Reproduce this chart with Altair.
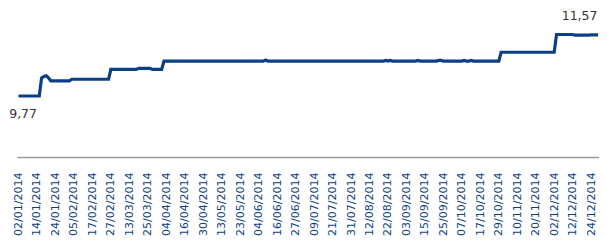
import altair as alt
import pandas as pd

# --- data ---
# CDI daily series (business days of 2014), written as flat runs: level and number of days
seg_values = [9.77, 10.30, 10.34, 10.36, 10.30, 10.21, 10.26, 10.55, 10.58, 10.55,
              10.79, 10.82, 10.79, 10.81, 10.79, 10.81, 10.79, 10.81, 10.79, 10.81,
              10.79, 10.81, 10.79, 10.81, 10.79, 11.05, 11.57, 11.55, 11.56]
seg_days = [10, 1, 1, 1, 1, 9, 17, 12, 6, 5,
            44, 1, 51, 1, 1, 1, 11, 1, 8, 2,
            9, 1, 2, 1, 12, 24, 8, 7, 4]

# x-axis tick labels (every 8th business day)
tick_labels = ["02/01/2014", "14/01/2014", "24/01/2014", "05/02/2014", "17/02/2014",
               "27/02/2014", "13/03/2014", "25/03/2014", "04/04/2014", "16/04/2014",
               "30/04/2014", "13/05/2014", "23/05/2014", "04/06/2014", "16/06/2014",
               "27/06/2014", "09/07/2014", "21/07/2014", "31/07/2014", "12/08/2014",
               "22/08/2014", "03/09/2014", "15/09/2014", "25/09/2014", "07/10/2014",
               "17/10/2014", "29/10/2014", "10/11/2014", "20/11/2014", "02/12/2014",
               "12/12/2014", "24/12/2014"]
tick_step = 8

# value labels (first and highest values)
label_day = [2, 243]
label_value = [9.77, 11.57]
label_text = ["9,77", "11,57"]

# --- build tables ---
vals = []
for v, n in zip(seg_values, seg_days):
    vals.extend([v] * n)
df = pd.DataFrame({"day": list(range(len(vals))), "cdi": vals})
lab = pd.DataFrame({"day": label_day, "cdi": label_value, "txt": label_text})

BLUE = "#0b3f86"
tick_vals = [i * tick_step for i in range(len(tick_labels))]
arr = "[" + ",".join("'" + t + "'" for t in tick_labels) + "]"

x_scale = alt.Scale(domain=[-0.65, 251.4], nice=False, zero=False)
y_scale = alt.Scale(domain=[7.985, 12.345], nice=False, zero=False)

x_axis = alt.Axis(values=tick_vals, labelExpr=arr + "[round(datum.value/8)]",
                  title=None, grid=False, ticks=False, tickSize=0,
                  domainColor="#9a9a9a", domainWidth=1.5,
                  labelAngle=-90, labelAlign="right", labelBaseline="middle",
                  labelPadding=15, labelFont="DejaVu Sans", labelFontSize=11,
                  labelColor=BLUE, labelOverlap=False, labelBound=False,
                  labelFlush=False)
X = alt.X("day:Q", scale=x_scale, axis=x_axis)
Y = alt.Y("cdi:Q", scale=y_scale, axis=None)

line = alt.Chart(df).mark_line(color=BLUE, strokeWidth=3.2).encode(x=X, y=Y)

text_lo = alt.Chart(lab.iloc[[0]]).mark_text(
    font="DejaVu Sans", fontSize=12.5, color="#333333", dy=18, align="center", baseline="middle"
).encode(x=X, y=Y, text="txt:N")

text_hi = alt.Chart(lab.iloc[[1]]).mark_text(
    font="DejaVu Sans", fontSize=12.5, color="#333333", dy=-18, align="center", baseline="middle"
).encode(x=X, y=Y, text="txt:N")

chart = alt.layer(line, text_lo, text_hi).properties(
    width=582, height=149,
    autosize=alt.AutoSizeParams(type="none"),
    padding={"left": 9, "top": 0, "right": 0, "bottom": 84},
    title=alt.TitleParams("CDI", fontSize=22, fontWeight="bold", color=BLUE,
                          font="Liberation Sans", anchor="middle", offset=6),
    background="white",
).configure_view(stroke=None).configure_axis(labelOverlap=False)

chart.save("out.html", embed_options={"renderer": "svg", "actions": False})
